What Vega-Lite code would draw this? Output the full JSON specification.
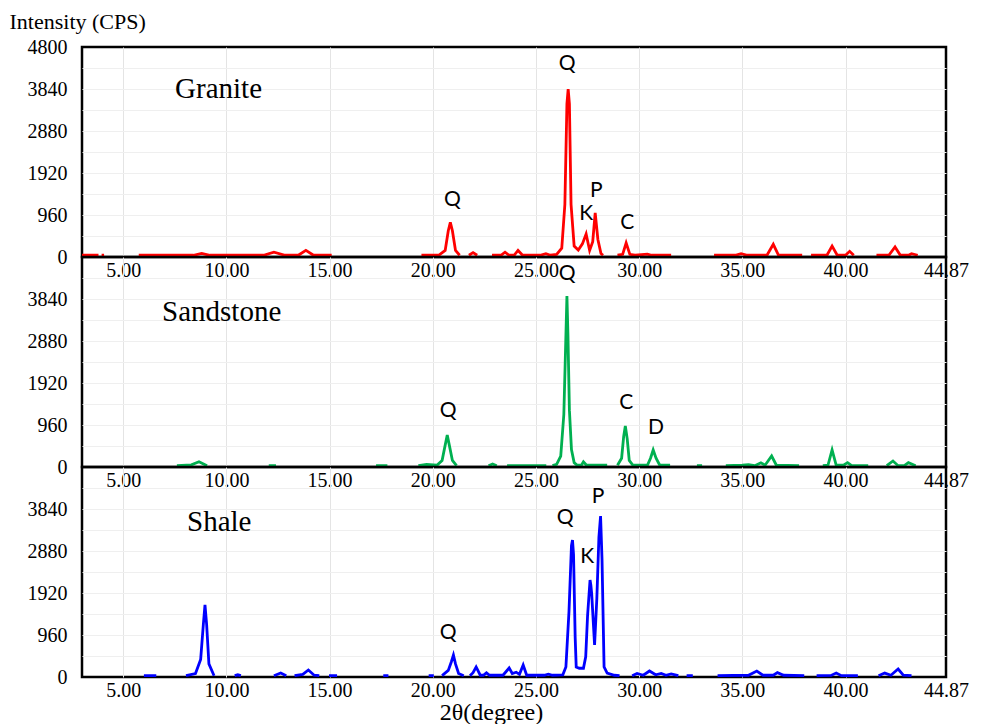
{
  "$schema": "https://vega.github.io/schema/vega-lite/v6.json",
  "background": "white",
  "padding": {"left": 7, "top": 8, "right": 10, "bottom": 2},
  "spacing": 0,
  "bounds": "flush",
  "datasets": {
    "granite": [
      {"x":3.0,"y":40},{"x":3.8,"y":40},{"x":3.85,"y":null},{"x":3.95,"y":40},{"x":4.07,"y":40},{"x":4.1,"y":null},
      {"x":5.75,"y":40},{"x":8.4,"y":40},{"x":8.8,"y":80},{"x":9.2,"y":40},{"x":11.8,"y":40},{"x":12.3,"y":110},{"x":12.8,"y":45},{"x":13.5,"y":45},{"x":13.85,"y":150},{"x":14.2,"y":45},{"x":15.1,"y":40},{"x":15.2,"y":null},
      {"x":19.45,"y":40},{"x":20.3,"y":45},{"x":20.6,"y":150},{"x":20.75,"y":600},{"x":20.85,"y":790},{"x":20.95,"y":600},{"x":21.1,"y":150},{"x":21.3,"y":40},{"x":21.4,"y":null},
      {"x":21.75,"y":40},{"x":21.95,"y":100},{"x":22.15,"y":40},{"x":22.3,"y":null},
      {"x":22.87,"y":40},{"x":23.3,"y":40},{"x":23.5,"y":110},{"x":23.7,"y":40},{"x":23.95,"y":45},{"x":24.13,"y":150},{"x":24.35,"y":40},{"x":25.2,"y":40},{"x":25.48,"y":75},{"x":25.7,"y":40},{"x":26.0,"y":60},{"x":26.25,"y":200},{"x":26.4,"y":1200},{"x":26.5,"y":3500},{"x":26.56,"y":3840},{"x":26.62,"y":3500},{"x":26.7,"y":1200},{"x":26.85,"y":250},{"x":27.05,"y":160},{"x":27.25,"y":300},{"x":27.43,"y":525},{"x":27.6,"y":150},{"x":27.75,"y":350},{"x":27.87,"y":1006},{"x":28.0,"y":400},{"x":28.15,"y":80},{"x":28.25,"y":40},{"x":28.3,"y":null},
      {"x":28.95,"y":40},{"x":29.2,"y":60},{"x":29.37,"y":320},{"x":29.55,"y":60},{"x":29.8,"y":40},{"x":30.4,"y":65},{"x":30.6,"y":40},{"x":31.55,"y":40},{"x":31.6,"y":null},
      {"x":33.63,"y":40},{"x":34.7,"y":45},{"x":34.94,"y":75},{"x":35.2,"y":45},{"x":36.2,"y":45},{"x":36.5,"y":290},{"x":36.75,"y":45},{"x":37.9,"y":40},{"x":38.0,"y":null},
      {"x":38.33,"y":40},{"x":39.1,"y":40},{"x":39.35,"y":250},{"x":39.6,"y":40},{"x":40.0,"y":40},{"x":40.2,"y":130},{"x":40.4,"y":40},{"x":40.45,"y":null},
      {"x":41.5,"y":40},{"x":42.1,"y":40},{"x":42.4,"y":230},{"x":42.65,"y":45},{"x":43.05,"y":40},{"x":43.2,"y":75},{"x":43.5,"y":40}
    ],
    "sandstone": [
      {"x":7.6,"y":30},{"x":8.3,"y":50},{"x":8.67,"y":120},{"x":9.06,"y":30},{"x":9.1,"y":null},
      {"x":12.05,"y":30},{"x":12.4,"y":30},{"x":12.5,"y":null},
      {"x":17.25,"y":30},{"x":17.8,"y":30},{"x":17.9,"y":null},
      {"x":19.3,"y":30},{"x":19.7,"y":60},{"x":20.2,"y":40},{"x":20.45,"y":150},{"x":20.6,"y":500},{"x":20.7,"y":730},{"x":20.8,"y":500},{"x":20.95,"y":150},{"x":21.15,"y":30},{"x":21.2,"y":null},
      {"x":22.7,"y":30},{"x":22.9,"y":70},{"x":23.1,"y":30},{"x":23.3,"y":null},
      {"x":23.6,"y":30},{"x":25.5,"y":30},{"x":25.6,"y":null},
      {"x":25.8,"y":30},{"x":26.0,"y":60},{"x":26.2,"y":250},{"x":26.35,"y":1200},{"x":26.45,"y":3000},{"x":26.5,"y":3910},{"x":26.55,"y":3000},{"x":26.62,"y":1300},{"x":26.72,"y":400},{"x":26.85,"y":100},{"x":27.0,"y":40},{"x":27.2,"y":40},{"x":27.3,"y":120},{"x":27.45,"y":40},{"x":28.45,"y":40},{"x":28.5,"y":null},
      {"x":28.95,"y":40},{"x":29.15,"y":200},{"x":29.25,"y":700},{"x":29.33,"y":937},{"x":29.42,"y":650},{"x":29.52,"y":150},{"x":29.7,"y":40},{"x":30.4,"y":40},{"x":30.55,"y":200},{"x":30.68,"y":389},{"x":30.82,"y":200},{"x":31.0,"y":40},{"x":31.5,"y":40},{"x":31.55,"y":null},
      {"x":32.8,"y":30},{"x":33.05,"y":30},{"x":33.1,"y":null},
      {"x":34.2,"y":30},{"x":35.0,"y":40},{"x":35.3,"y":55},{"x":35.6,"y":30},{"x":35.9,"y":95},{"x":36.1,"y":40},{"x":36.42,"y":251},{"x":36.65,"y":40},{"x":37.75,"y":30},{"x":37.8,"y":null},
      {"x":38.9,"y":30},{"x":39.15,"y":40},{"x":39.35,"y":389},{"x":39.55,"y":40},{"x":39.9,"y":40},{"x":40.1,"y":100},{"x":40.3,"y":30},{"x":41.1,"y":30},{"x":41.15,"y":null},
      {"x":42.0,"y":30},{"x":42.3,"y":137},{"x":42.55,"y":30},{"x":42.85,"y":30},{"x":43.05,"y":100},{"x":43.4,"y":30}
    ],
    "shale": [
      {"x":6.0,"y":30},{"x":6.6,"y":30},{"x":6.7,"y":null},
      {"x":8.04,"y":30},{"x":8.5,"y":80},{"x":8.75,"y":400},{"x":8.88,"y":1200},{"x":8.96,"y":1650},{"x":9.04,"y":1200},{"x":9.15,"y":300},{"x":9.4,"y":30},{"x":9.5,"y":null},
      {"x":10.4,"y":30},{"x":10.55,"y":50},{"x":10.7,"y":30},{"x":10.8,"y":null},
      {"x":12.3,"y":30},{"x":12.63,"y":91},{"x":12.9,"y":30},{"x":13.0,"y":null},
      {"x":13.3,"y":30},{"x":13.7,"y":60},{"x":13.97,"y":160},{"x":14.25,"y":40},{"x":14.5,"y":30},{"x":14.6,"y":null},
      {"x":14.97,"y":30},{"x":15.36,"y":30},{"x":15.4,"y":null},
      {"x":17.6,"y":30},{"x":17.85,"y":30},{"x":17.9,"y":null},
      {"x":19.8,"y":30},{"x":20.05,"y":30},{"x":20.1,"y":null},
      {"x":20.45,"y":30},{"x":20.75,"y":150},{"x":20.9,"y":350},{"x":21.0,"y":503},{"x":21.1,"y":300},{"x":21.25,"y":80},{"x":21.5,"y":30},{"x":21.55,"y":null},
      {"x":21.8,"y":30},{"x":21.95,"y":100},{"x":22.1,"y":229},{"x":22.3,"y":40},{"x":22.45,"y":40},{"x":22.6,"y":95},{"x":22.75,"y":40},{"x":23.4,"y":40},{"x":23.7,"y":206},{"x":23.85,"y":80},{"x":24.04,"y":110},{"x":24.2,"y":60},{"x":24.38,"y":274},{"x":24.55,"y":40},{"x":25.4,"y":40},{"x":25.6,"y":65},{"x":25.8,"y":40},{"x":26.3,"y":50},{"x":26.45,"y":229},{"x":26.6,"y":1500},{"x":26.72,"y":3000},{"x":26.77,"y":3130},{"x":26.82,"y":2800},{"x":26.9,"y":900},{"x":26.95,"y":229},{"x":27.1,"y":200},{"x":27.3,"y":200},{"x":27.41,"y":460},{"x":27.5,"y":1400},{"x":27.62,"y":2217},{"x":27.66,"y":2100},{"x":27.7,"y":1900},{"x":27.84,"y":731},{"x":27.95,"y":1800},{"x":28.05,"y":3200},{"x":28.13,"y":3680},{"x":28.2,"y":2700},{"x":28.3,"y":229},{"x":28.45,"y":91},{"x":28.8,"y":40},{"x":29.05,"y":30},{"x":29.1,"y":null},
      {"x":29.66,"y":30},{"x":29.9,"y":80},{"x":30.2,"y":40},{"x":30.5,"y":137},{"x":30.8,"y":50},{"x":31.07,"y":80},{"x":31.3,"y":40},{"x":31.55,"y":70},{"x":31.9,"y":30},{"x":32.0,"y":null},
      {"x":32.3,"y":30},{"x":32.6,"y":30},{"x":32.7,"y":null},
      {"x":33.8,"y":30},{"x":35.3,"y":40},{"x":35.7,"y":137},{"x":36.0,"y":40},{"x":36.5,"y":40},{"x":36.7,"y":100},{"x":37.0,"y":40},{"x":38.0,"y":30},{"x":38.1,"y":null},
      {"x":38.6,"y":30},{"x":39.3,"y":35},{"x":39.55,"y":90},{"x":39.8,"y":30},{"x":40.6,"y":30},{"x":40.7,"y":null},
      {"x":41.6,"y":30},{"x":41.9,"y":90},{"x":42.2,"y":40},{"x":42.55,"y":183},{"x":42.8,"y":40},{"x":43.2,"y":30}
    ],
    "granite_lab": [
      {"x":20.95,"y":1303,"t":"Q"},{"x":26.51,"y":4411,"t":"Q"},{"x":27.43,"y":983,"t":"K"},{"x":27.92,"y":1509,"t":"P"},{"x":29.42,"y":777,"t":"C"}
    ],
    "sandstone_lab": [
      {"x":20.74,"y":1280,"t":"Q"},{"x":26.51,"y":4411,"t":"Q"},{"x":29.37,"y":1463,"t":"C"},{"x":30.82,"y":891,"t":"D"}
    ],
    "shale_lab": [
      {"x":20.74,"y":1006,"t":"Q"},{"x":26.41,"y":3634,"t":"Q"},{"x":27.48,"y":2743,"t":"K"},{"x":28.01,"y":4114,"t":"P"}
    ],
    "names": [
      {"x":7.51,"y":3840,"t":"Granite","s":"Granite"},
      {"x":6.88,"y":3540,"t":"Sandstone","s":"Sandstone"},
      {"x":8.09,"y":3550,"t":"Shale","s":"Shale"}
    ]
  },
  "vconcat": [
    {
      "width": 864, "height": 210,
      "encoding": {
        "x": {"field": "x", "type": "quantitative",
          "scale": {"domain": [3, 44.87], "nice": false, "zero": false},
          "axis": {"values": [5,10,15,20,25,30,35,40,44.87], "format": ".2f", "title": null, "labelPadding": 3, "labelFlush": false, "labelOverlap": false, "grid": true, "gridColor": "#e4e4e4",
            "gridOpacity": {"condition": {"test": "datum.value > 44", "value": 0}, "value": 1}}},
        "y": {"field": "y", "type": "quantitative",
          "scale": {"domain": [0, 4800], "nice": false},
          "axis": {"values": [0,480,960,1440,1920,2400,2880,3360,3840,4320,4800], "labelExpr": "datum.value % 960 === 0 ? datum.label : ''", "format": "d", "labelPadding": 15, "grid": true, "gridColor": "#efefef",
            "gridOpacity": {"condition": {"test": "datum.value >= 4800 || datum.value <= 0", "value": 0}, "value": 1},
            "title": "Intensity (CPS)", "titleAngle": 0, "titleAlign": "left", "titleBaseline": "middle", "titleX": -73, "titleY": -26, "titleFontSize": 22}}
      },
      "layer": [
        {"data": {"name": "granite"}, "mark": {"type": "line", "color": "#ff0000", "strokeWidth": 2.8, "invalid": "break-paths-show-domains"}},
        {"data": {"name": "names"}, "transform": [{"filter": "datum.s === 'Granite'"}], "mark": {"type": "text", "align": "left", "baseline": "middle", "font": "Liberation Serif", "fontSize": 29, "color": "#000"}, "encoding": {"text": {"field": "t"}}},
        {"data": {"name": "granite_lab"}, "mark": {"type": "text", "align": "center", "baseline": "middle", "font": "Lato", "fontSize": 21, "color": "#000"}, "encoding": {"text": {"field": "t"}}}
      ]
    },
    {
      "width": 864, "height": 210,
      "encoding": {
        "x": {"field": "x", "type": "quantitative",
          "scale": {"domain": [3, 44.87], "nice": false, "zero": false},
          "axis": {"values": [5,10,15,20,25,30,35,40,44.87], "format": ".2f", "title": null, "labelPadding": 3, "labelFlush": false, "labelOverlap": false, "grid": true, "gridColor": "#e4e4e4",
            "gridOpacity": {"condition": {"test": "datum.value > 44", "value": 0}, "value": 1}}},
        "y": {"field": "y", "type": "quantitative",
          "scale": {"domain": [0, 4800], "nice": false},
          "axis": {"values": [0,480,960,1440,1920,2400,2880,3360,3840,4320], "labelExpr": "datum.value % 960 === 0 ? datum.label : ''", "format": "d", "labelPadding": 15, "grid": true, "gridColor": "#efefef",
            "gridOpacity": {"condition": {"test": "datum.value <= 0", "value": 0}, "value": 1}, "title": null}}
      },
      "layer": [
        {"data": {"name": "sandstone"}, "mark": {"type": "line", "color": "#00b050", "strokeWidth": 2.8, "invalid": "break-paths-show-domains"}},
        {"data": {"name": "names"}, "transform": [{"filter": "datum.s === 'Sandstone'"}], "mark": {"type": "text", "align": "left", "baseline": "middle", "font": "Liberation Serif", "fontSize": 29, "color": "#000"}, "encoding": {"text": {"field": "t"}}},
        {"data": {"name": "sandstone_lab"}, "mark": {"type": "text", "align": "center", "baseline": "middle", "font": "Lato", "fontSize": 21, "color": "#000"}, "encoding": {"text": {"field": "t"}}}
      ]
    },
    {
      "width": 864, "height": 210,
      "encoding": {
        "x": {"field": "x", "type": "quantitative",
          "scale": {"domain": [3, 44.87], "nice": false, "zero": false},
          "axis": {"values": [5,10,15,20,25,30,35,40,44.87], "format": ".2f", "labelPadding": 3, "labelFlush": false, "labelOverlap": false, "grid": true, "gridColor": "#e4e4e4",
            "gridOpacity": {"condition": {"test": "datum.value > 44", "value": 0}, "value": 1},
            "title": "2θ(degree)", "titleFontSize": 24, "titlePadding": 0, "titleX": 409}},
        "y": {"field": "y", "type": "quantitative",
          "scale": {"domain": [0, 4800], "nice": false},
          "axis": {"values": [0,480,960,1440,1920,2400,2880,3360,3840,4320], "labelExpr": "datum.value % 960 === 0 ? datum.label : ''", "format": "d", "labelPadding": 15, "grid": true, "gridColor": "#efefef",
            "gridOpacity": {"condition": {"test": "datum.value <= 0", "value": 0}, "value": 1}, "title": null}}
      },
      "layer": [
        {"data": {"name": "shale"}, "mark": {"type": "line", "color": "#0000ff", "strokeWidth": 2.8, "invalid": "break-paths-show-domains"}},
        {"data": {"name": "names"}, "transform": [{"filter": "datum.s === 'Shale'"}], "mark": {"type": "text", "align": "left", "baseline": "middle", "font": "Liberation Serif", "fontSize": 29, "color": "#000"}, "encoding": {"text": {"field": "t"}}},
        {"data": {"name": "shale_lab"}, "mark": {"type": "text", "align": "center", "baseline": "middle", "font": "Lato", "fontSize": 21, "color": "#000"}, "encoding": {"text": {"field": "t"}}}
      ]
    }
  ],
  "config": {
    "view": {"stroke": "#000000", "strokeWidth": 2.5},
    "axis": {
      "labelFont": "Liberation Serif", "labelFontSize": 20, "labelColor": "#000000",
      "titleFont": "Liberation Serif", "titleFontSize": 20, "titleFontWeight": "normal", "titleColor": "#000000",
      "tickSize": 0, "ticks": false, "domain": false, "gridWidth": 1
    }
  }
}
